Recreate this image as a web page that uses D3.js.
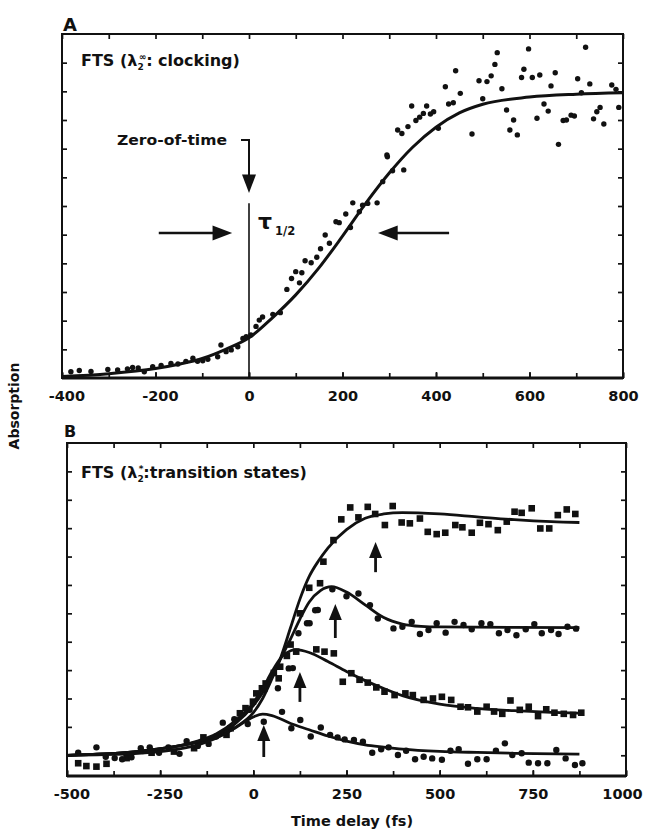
<!DOCTYPE html>
<html><head><meta charset="utf-8">
<script src="https://cdn.jsdelivr.net/npm/d3@7"></script>
<style>
html,body{margin:0;padding:0;background:#fff;}
svg{display:block;}
text{font-family:"DejaVu Sans",sans-serif;font-weight:bold;fill:#111;}
</style></head>
<body>
<svg id="chart" width="645" height="831"></svg>
<script>
// ---------- DATA ----------
// Panel A: clocking (time in fs, absorption arb. units)
const tickLabelsA = [-400, -200, 0, 200, 400, 600, 800];
const fitA = [[-400,0.05],[-300,0.15],[-200,0.33],[-150,0.48],[-100,0.68],[-50,1.0],[0,1.4],[50,2.1],[100,2.9],[150,3.85],[200,4.95],[250,6.1],[300,7.15],[350,8.05],[400,8.75],[450,9.25],[500,9.55],[600,9.8],[700,9.9],[800,9.95]];
const pointsA = [
 [-381,0.22],[-363,0.26],[-338,0.23],[-302,0.3],[-281,0.28],[-260,0.32],[-249,0.37],[-237,0.35],[-224,0.22],[-206,0.39],
 [-188,0.44],[-167,0.51],[-152,0.49],[-135,0.58],[-120,0.69],[-110,0.58],[-99,0.6],[-88,0.65],[-67,0.74],[-60,1.15],
 [-49,0.92],[-38,0.98],[-24,1.09],[-13,1.38],[-6,1.44],[4,1.5],[15,1.8],[22,2.02],[29,2.13],[51,2.22],[67,2.28],
 [81,3.09],[91,3.47],[100,3.71],[108,3.32],[113,3.67],[120,4.09],[133,4.02],[145,4.21],[153,4.51],[163,4.99],[172,4.7],
 [186,5.45],[193,5.42],[207,5.72],[217,5.25],[222,6.11],[236,5.8],[243,6.03],[254,6.09],[274,6.11],[286,6.85],[295,7.78],
 [296,7.72],[307,7.23],[318,8.65],[327,8.53],[331,7.26],[340,8.77],[348,9.49],[357,8.98],[365,9.1],[373,9.23],[380,9.49],
 [388,9.21],[395,9.29],[405,8.71],[420,10.16],[427,9.56],[437,9.6],[442,10.72],[452,9.93],[477,8.51],[492,10.37],
 [500,9.74],[509,10.34],[518,10.54],[526,10.94],[531,11.35],[541,10.09],[551,9.35],[558,8.65],[566,9.0],[574,8.48],
 [583,10.48],[588,10.77],[598,11.48],[606,10.48],[616,9.06],[622,10.57],[631,9.56],[640,9.31],[646,10.19],[655,10.65],
 [662,8.15],[672,8.98],[679,9.0],[689,9.17],[696,9.14],[703,10.44],[711,9.95],[720,11.54],[729,10.26],[737,9.04],
 [744,9.29],[751,9.44],[759,8.86],[776,10.22],[785,10.07],[791,9.44]
];

// Panel B: transition states
const tickLabelsB = [-500, -250, 0, 250, 500, 750, 1000];
const fitB1 = [[-500,0.0],[-400,0.05],[-300,0.15],[-200,0.33],[-150,0.45],[-100,0.62],[-50,0.97],[0,1.5],[25,2.0],[50,2.7],[75,3.5],[100,4.5],[125,5.5],[150,6.3],[175,6.85],[200,7.3],[250,7.95],[300,8.35],[350,8.5],[400,8.55],[500,8.5],[600,8.4],[700,8.3],[800,8.23],[875,8.2]];
const fitB2 = [[-500,0.0],[-400,0.05],[-300,0.15],[-200,0.33],[-150,0.47],[-100,0.7],[-50,1.1],[0,1.75],[25,2.2],[50,2.8],[75,3.45],[100,4.1],[125,4.8],[150,5.4],[180,5.8],[210,5.94],[250,5.75],[300,5.3],[350,4.85],[400,4.62],[450,4.54],[500,4.52],[875,4.5]];
const fitB3 = [[-500,0.0],[-400,0.05],[-300,0.15],[-200,0.33],[-150,0.5],[-100,0.75],[-50,1.2],[0,1.85],[25,2.35],[50,2.95],[75,3.45],[100,3.68],[115,3.72],[150,3.62],[200,3.3],[250,2.95],[300,2.63],[350,2.35],[400,2.1],[500,1.8],[600,1.65],[700,1.57],[800,1.51],[875,1.48]];
const fitB4 = [[-500,0.0],[-400,0.02],[-300,0.08],[-200,0.22],[-150,0.36],[-100,0.6],[-50,0.95],[0,1.35],[25,1.45],[50,1.4],[100,1.12],[150,0.9],[200,0.68],[250,0.5],[300,0.37],[350,0.29],[400,0.22],[500,0.14],[600,0.1],[700,0.07],[875,0.04]];
const pointsB1 = [[-448,-0.38],[-394,-0.3],[-340,-0.1],[-213,0.13],[-134,0.63],[-61,0.95],[-36,1.48],[-1,1.89],[23,2.36],[55,2.9],[68,2.71],[100,3.9],[125,5.0],[150,5.9],[179,6.06],[188,6.82],[215,7.58],[236,8.31],[260,8.73],[282,8.38],[307,8.75],[327,8.5],[353,8.11],[374,8.78],[398,8.2],[420,8.17],[447,8.34],[468,7.87],[492,7.79],[515,7.84],[542,8.11],[561,8.03],[586,7.84],[608,8.19],[631,8.14],[656,7.93],[680,8.23],[701,8.58],[720,8.54],[747,8.7],[770,7.99],[794,7.99],[817,8.46],[841,8.66],[864,8.5]];
const pointsB2 = [[-10,1.6],[30,2.3],[66,2.36],[95,3.06],[106,3.07],[121,4.3],[144,4.65],[151,4.65],[166,5.11],[173,5.12],[212,5.85],[250,5.6],[282,5.7],[313,5.29],[334,4.82],[376,4.47],[400,4.53],[425,4.7],[447,4.27],[470,4.41],[492,4.65],[516,4.32],[540,4.7],[564,4.59],[586,4.44],[612,4.65],[636,4.62],[659,4.3],[682,4.41],[706,4.23],[731,4.44],[754,4.62],[774,4.3],[799,4.41],[819,4.27],[843,4.53],[866,4.46]];
const pointsB3 = [[-470,-0.28],[-421,-0.4],[-273,0.09],[-159,0.25],[-72,0.72],[-21,1.66],[8,2.18],[33,2.53],[72,3.12],[90,3.5],[115,3.65],[169,3.73],[191,3.65],[216,3.59],[240,2.59],[263,2.89],[285,2.66],[307,2.56],[330,2.39],[352,2.24],[379,2.12],[408,2.18],[428,2.12],[457,1.95],[482,2.0],[506,2.06],[531,1.95],[556,1.71],[576,1.69],[601,1.54],[626,1.71],[646,1.54],[668,1.46],[690,1.93],[715,1.6],[739,1.71],[764,1.38],[786,1.62],[808,1.5],[833,1.46],[858,1.42],[880,1.5]];
const pointsB4 = [[-470,0.09],[-421,0.28],[-396,-0.05],[-372,-0.1],[-352,-0.14],[-327,-0.07],[-302,0.25],[-278,0.28],[-253,0.09],[-228,0.28],[-198,0.05],[-179,0.5],[-149,0.33],[-120,0.4],[-100,0.66],[-82,1.15],[-51,1.27],[-15,1.1],[28,1.18],[77,1.53],[102,0.95],[126,1.24],[154,0.66],[181,0.98],[206,0.72],[226,0.63],[245,0.56],[270,0.54],[294,0.48],[319,0.09],[343,0.21],[363,0.28],[388,0.01],[410,0.16],[434,-0.14],[457,-0.05],[480,-0.11],[506,-0.16],[529,0.16],[551,0.21],[576,-0.3],[601,-0.14],[626,-0.14],[651,0.16],[675,0.42],[695,0.01],[720,0.07],[739,-0.26],[764,-0.28],[789,-0.28],[813,0.19],[838,-0.11],[863,-0.34],[883,-0.28]];
// arrows marking transition states: [time, tail value, tip value]
const arrowsB = [[28,-0.06,1.07],[125,1.88,2.93],[220,4.13,5.33],[328,6.45,7.51]];

// ---------- DRAW ----------
const svg = d3.select("#chart");
svg.append("rect").attr("width",645).attr("height",831).attr("fill","#fff");

const xA = d3.scaleLinear().domain([-400,800]).range([62,623]);
const yA = d3.scaleLinear().domain([0,12]).range([378,34]);
const xB = d3.scaleLinear().domain([-500,1000]).range([67,626]);
const yB = d3.scaleLinear().domain([-0.73,11]).range([776,443]);

const fmt = d => (d < 0 ? "-" + Math.abs(d) : "" + d);

function frame(g, x, y, majors, minors, yTicks){
  const [x0,x1] = x.range(), [y1,y0] = y.range();
  const xmax = x.domain()[1];
  g.append("g").attr("transform",`translate(0,${y1})`)
    .call(d3.axisBottom(x).tickValues(minors).tickSize(-5).tickFormat(""));
  g.append("g").attr("transform",`translate(0,${y0})`)
    .call(d3.axisTop(x).tickValues(minors).tickSize(-5).tickFormat(""));
  const ax = g.append("g").attr("transform",`translate(0,${y1})`)
    .call(d3.axisBottom(x).tickValues(majors).tickSize(-6).tickPadding(13).tickFormat(fmt));
  ax.selectAll("text").attr("font-size",14.5).attr("font-family","DejaVu Sans").attr("font-weight","bold")
    .attr("fill","#111").attr("dx", d => d < 0 ? "0.3em" : (d === xmax && d >= 1000 ? "-4" : 0));
  g.append("g").attr("transform",`translate(${x0},0)`)
    .call(d3.axisLeft(y).tickValues(yTicks).tickSize(-5).tickFormat(""));
  g.append("g").attr("transform",`translate(${x1},0)`)
    .call(d3.axisRight(y).tickValues(yTicks).tickSize(-5).tickFormat(""));
  g.selectAll(".domain").remove();
  g.selectAll(".tick line").attr("stroke","#111").attr("stroke-width",1.7);
  g.append("rect").attr("x",x0).attr("y",y0).attr("width",x1-x0).attr("height",y1-y0)
    .attr("fill","none").attr("stroke","#111").attr("stroke-width",2);
  g.append("line").attr("x1",x0).attr("x2",x1).attr("y1",y1).attr("y2",y1)
    .attr("stroke","#111").attr("stroke-width",2.8);
}

// ---- Panel A ----
const gA = svg.append("g");
frame(gA, xA, yA, tickLabelsA, d3.range(-400,801,100), d3.range(1,12,1));

const line = (x,y) => d3.line().x(d=>x(d[0])).y(d=>y(d[1])).curve(d3.curveMonotoneX);

gA.append("g").selectAll("circle").data(pointsA).join("circle")
  .attr("cx",d=>xA(d[0])).attr("cy",d=>yA(d[1])).attr("r",2.7).attr("fill","#111");
gA.append("path").datum(fitA).attr("d",line(xA,yA)).attr("fill","none")
  .attr("stroke","#111").attr("stroke-width",3);

// annotations A
const x0A = xA(0);
gA.append("line").attr("x1",x0A).attr("x2",x0A).attr("y1",yA(6.1)).attr("y2",yA(0))
  .attr("stroke","#111").attr("stroke-width",1.6);
gA.append("text").attr("x",117).attr("y",yA(8.3)+5).attr("font-size",14)
  .attr("textLength",110).attr("lengthAdjust","spacingAndGlyphs").text("Zero-of-time");
gA.append("path").attr("d",`M${x0A-8},${yA(8.3)}H${x0A}V${yA(7.0)}`)
  .attr("fill","none").attr("stroke","#111").attr("stroke-width",2);
gA.append("path").attr("d",`M${x0A-7},${yA(7.1)}L${x0A+7},${yA(7.1)}L${x0A},${yA(6.45)}Z`).attr("fill","#111");
const yArr = yA(5.06);
gA.append("line").attr("x1",xA(-193)).attr("x2",xA(-70)).attr("y1",yArr).attr("y2",yArr)
  .attr("stroke","#111").attr("stroke-width",2.6);
gA.append("path").attr("d",`M${xA(-36)},${yArr}L${xA(-78)},${yArr-7.5}L${xA(-78)},${yArr+7.5}Z`).attr("fill","#111");
gA.append("line").attr("x1",xA(428)).attr("x2",xA(310)).attr("y1",yArr).attr("y2",yArr)
  .attr("stroke","#111").attr("stroke-width",2.6);
gA.append("path").attr("d",`M${xA(276)},${yArr}L${xA(318)},${yArr-7.5}L${xA(318)},${yArr+7.5}Z`).attr("fill","#111");
gA.append("text").attr("x",x0A+9).attr("y",yArr-4).attr("font-family","DejaVu Serif")
  .attr("font-weight","normal").attr("font-size",22).text("τ");
gA.append("text").attr("x",x0A+26).attr("y",yArr+2).attr("font-size",11.5).text("1/2");

const tA = svg.append("text").attr("x",81).attr("y",66).attr("font-size",16);
tA.append("tspan").text("FTS (λ");
tA.append("tspan").attr("font-size",9).attr("dy",4).text("2");
tA.append("tspan").attr("font-size",9).attr("dy",-10).attr("dx",-5).text("∞");
tA.append("tspan").attr("dy",6).text(": clocking)");
svg.append("text").attr("x",63).attr("y",31).attr("font-size",18).text("A");

// ---- Panel B ----
const gB = svg.append("g");
frame(gB, xB, yB, tickLabelsB, d3.range(-500,1001,125), d3.range(0,11,1));

const circ = (data) => gB.append("g").selectAll("circle").data(data).join("circle")
  .attr("cx",d=>xB(d[0])).attr("cy",d=>yB(d[1])).attr("r",3.2).attr("fill","#111");
const sq = (data) => gB.append("g").selectAll("rect").data(data).join("rect")
  .attr("x",d=>xB(d[0])-3.3).attr("y",d=>yB(d[1])-3.3).attr("width",6.6).attr("height",6.6).attr("fill","#111");
sq(pointsB1); circ(pointsB2); sq(pointsB3); circ(pointsB4);
[fitB1,fitB2,fitB3,fitB4].forEach(f => gB.append("path").datum(f).attr("d",line(xB,yB))
  .attr("fill","none").attr("stroke","#111").attr("stroke-width",2.8));

arrowsB.forEach(([t,v0,v1]) => {
  const x = xB(t), yt = yB(v1), yb = yB(v0);
  gB.append("line").attr("x1",x).attr("x2",x).attr("y1",yb).attr("y2",yt+10)
    .attr("stroke","#111").attr("stroke-width",2.8);
  gB.append("path").attr("d",`M${x},${yt}L${x-6.5},${yt+16}L${x+6.5},${yt+16}Z`).attr("fill","#111");
});

const tB = svg.append("text").attr("x",81).attr("y",478).attr("font-size",16);
tB.append("tspan").text("FTS (λ");
tB.append("tspan").attr("font-size",9).attr("dy",4).text("2");
tB.append("tspan").attr("font-size",9).attr("dy",-10).attr("dx",-5).text("*");
tB.append("tspan").attr("dy",6).text(":transition states)");
svg.append("text").attr("x",64).attr("y",437).attr("font-size",16).text("B");

svg.append("text").attr("x",352).attr("y",826).attr("text-anchor","middle").attr("font-size",14.5).text("Time delay (fs)");
svg.append("text").attr("transform","translate(19,406) rotate(-90)").attr("text-anchor","middle")
  .attr("font-size",14).text("Absorption");
</script>
</body></html>
